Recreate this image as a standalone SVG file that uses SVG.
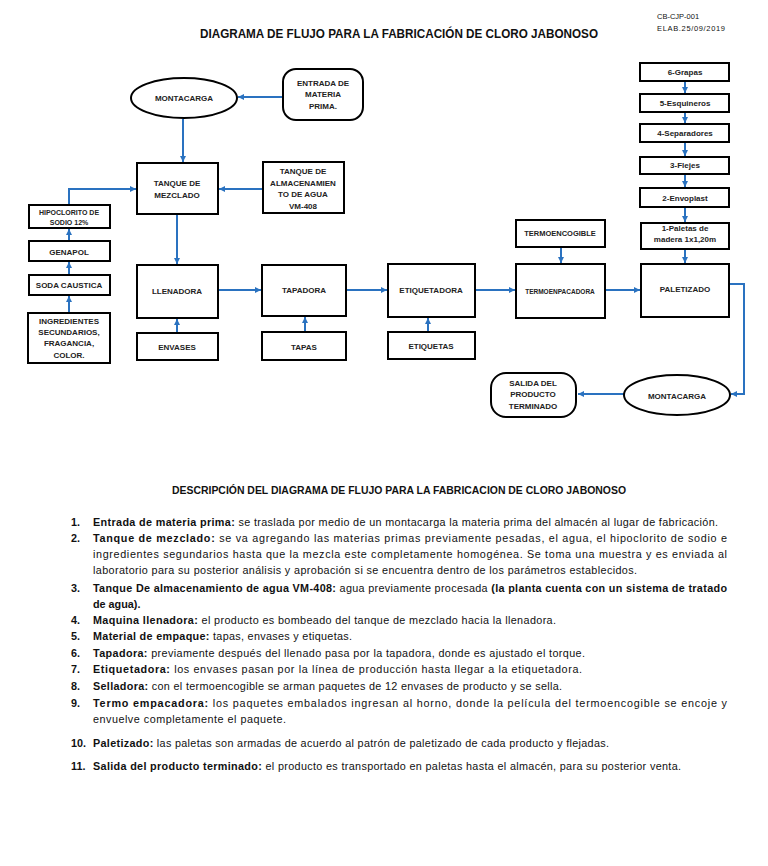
<svg xmlns="http://www.w3.org/2000/svg" width="768" height="866" viewBox="0 0 768 866">
<style>
  .box{fill:#fff;stroke:#000;stroke-width:2}
  .nt{font-family:"Liberation Sans",Arial,sans-serif;font-weight:bold;font-size:8px;fill:#222;text-anchor:middle;dominant-baseline:central}
  .sm{font-size:7px}
  .conn{fill:none;stroke:#2a72c0;stroke-width:2}
  .title{font-family:"Liberation Sans",Arial,sans-serif;font-weight:bold;font-size:13.5px;fill:#111}
  .code{font-family:"Liberation Sans",Arial,sans-serif;font-size:7.5px;fill:#111}
  .body{font-family:"Liberation Sans",Arial,sans-serif;font-size:10.8px;fill:#111}
  .b{font-weight:bold}
</style>
<defs>
  <marker id="ah" markerUnits="userSpaceOnUse" markerWidth="7" markerHeight="7" refX="6" refY="3.5" orient="auto">
    <path d="M0,0.5 L6,3.5 L0,6.5 Z" fill="#2a72c0"/>
  </marker>
</defs>
<rect width="768" height="866" fill="#fff"/>

<text class="title" x="200" y="38" textLength="398" lengthAdjust="spacingAndGlyphs">DIAGRAMA DE FLUJO PARA LA FABRICACIÓN DE CLORO JABONOSO</text>
<text class="code" x="657" y="19">CB-CJP-001</text>
<text class="code" x="657" y="31" textLength="68" lengthAdjust="spacing">ELAB.25/09/2019</text>

<g id="connectors">
  <path class="conn" marker-end="url(#ah)" d="M283,97 L238,97"/>
  <path class="conn" marker-end="url(#ah)" d="M183,119 L183,162"/>
  <path class="conn" marker-end="url(#ah)" d="M263,189 L219,189"/>
  <path class="conn" marker-end="url(#ah)" d="M69,204 L69,189 L136,189"/>
  <path class="conn" marker-end="url(#ah)" d="M69,241 L69,229"/>
  <path class="conn" marker-end="url(#ah)" d="M69,275 L69,262"/>
  <path class="conn" marker-end="url(#ah)" d="M69,313 L69,296"/>
  <path class="conn" marker-end="url(#ah)" d="M177,214 L177,264"/>
  <path class="conn" marker-end="url(#ah)" d="M177,333 L177,319"/>
  <path class="conn" marker-end="url(#ah)" d="M218,290 L261,290"/>
  <path class="conn" marker-end="url(#ah)" d="M305,332 L305,317"/>
  <path class="conn" marker-end="url(#ah)" d="M346,290 L387,290"/>
  <path class="conn" marker-end="url(#ah)" d="M428,332 L428,318"/>
  <path class="conn" marker-end="url(#ah)" d="M475,290 L515,290"/>
  <path class="conn" marker-end="url(#ah)" d="M561,247 L561,263"/>
  <path class="conn" marker-end="url(#ah)" d="M605,290 L640,290"/>
  <path class="conn" marker-end="url(#ah)" d="M685,249 L685,263"/>
  <path class="conn" marker-end="url(#ah)" d="M685,81 L685,93"/>
  <path class="conn" marker-end="url(#ah)" d="M685,112 L685,123"/>
  <path class="conn" marker-end="url(#ah)" d="M685,142 L685,156"/>
  <path class="conn" marker-end="url(#ah)" d="M685,173 L685,187"/>
  <path class="conn" marker-end="url(#ah)" d="M685,207 L685,222"/>
  <path class="conn" marker-end="url(#ah)" d="M729,284 L744,284 L744,394 L731,394"/>
  <path class="conn" marker-end="url(#ah)" d="M624,394 L578,394"/>
</g>

<g id="montacarga1">
  <ellipse class="box" cx="184" cy="98" rx="53" ry="20"/>
  <text class="nt" x="184" y="98">MONTACARGA</text>
</g>
<g id="entrada">
  <rect class="box" x="283" y="69" width="80" height="51" rx="13"/>
  <text class="nt" x="323" y="83">ENTRADA DE</text>
  <text class="nt" x="323" y="94">MATERIA</text>
  <text class="nt" x="323" y="106">PRIMA.</text>
</g>
<g id="tanque-mezclado">
  <rect class="box" x="137" y="163" width="81" height="51"/>
  <text class="nt" x="177" y="183">TANQUE DE</text>
  <text class="nt" x="177" y="195">MEZCLADO</text>
</g>
<g id="tanque-agua">
  <rect class="box" x="263" y="162" width="81" height="51"/>
  <text class="nt" x="303" y="171">TANQUE DE</text>
  <text class="nt" x="303" y="183">ALMACENAMIEN</text>
  <text class="nt" x="303" y="194">TO DE AGUA</text>
  <text class="nt" x="303" y="206">VM-408</text>
</g>
<g id="hipoclorito">
  <rect class="box" x="29" y="205" width="81" height="23"/>
  <text class="nt sm" x="69" y="212">HIPOCLORITO DE</text>
  <text class="nt sm" x="69" y="222">SODIO 12%</text>
</g>
<g id="genapol">
  <rect class="box" x="29" y="241" width="81" height="20"/>
  <text class="nt" x="69" y="252">GENAPOL</text>
</g>
<g id="soda">
  <rect class="box" x="29" y="275" width="81" height="20"/>
  <text class="nt" x="69" y="285">SODA CAUSTICA</text>
</g>
<g id="ingredientes">
  <rect class="box" x="28" y="313" width="82" height="50"/>
  <text class="nt" x="69" y="321">INGREDIENTES</text>
  <text class="nt" x="69" y="332">SECUNDARIOS,</text>
  <text class="nt" x="69" y="343">FRAGANCIA,</text>
  <text class="nt" x="69" y="355">COLOR.</text>
</g>
<g id="llenadora">
  <rect class="box" x="137" y="265" width="81" height="53"/>
  <text class="nt" x="177" y="291">LLENADORA</text>
</g>
<g id="envases">
  <rect class="box" x="137" y="333" width="81" height="27"/>
  <text class="nt" x="177" y="347">ENVASES</text>
</g>
<g id="tapadora">
  <rect class="box" x="262" y="265" width="84" height="51"/>
  <text class="nt" x="304" y="290">TAPADORA</text>
</g>
<g id="tapas">
  <rect class="box" x="262" y="332" width="84" height="28"/>
  <text class="nt" x="304" y="347">TAPAS</text>
</g>
<g id="etiquetadora">
  <rect class="box" x="388" y="264" width="87" height="53"/>
  <text class="nt" x="431" y="290">ETIQUETADORA</text>
</g>
<g id="etiquetas">
  <rect class="box" x="388" y="332" width="87" height="27"/>
  <text class="nt" x="431" y="346">ETIQUETAS</text>
</g>
<g id="termoencogible">
  <rect class="box" x="516" y="220" width="89" height="27"/>
  <text class="nt" x="560" y="233" style="font-size:7.5px">TERMOENCOGIBLE</text>
</g>
<g id="termoenpacadora">
  <rect class="box" x="516" y="264" width="89" height="54"/>
  <text class="nt" x="560" y="291" style="font-size:6.5px">TERMOENPACADORA</text>
</g>
<g id="paletizado">
  <rect class="box" x="641" y="264" width="88" height="53"/>
  <text class="nt" x="685" y="289">PALETIZADO</text>
</g>
<g id="grapas">
  <rect class="box" x="640" y="63" width="89" height="18"/>
  <text class="nt" x="685" y="72">6-Grapas</text>
</g>
<g id="esquineros">
  <rect class="box" x="640" y="94" width="89" height="18"/>
  <text class="nt" x="685" y="103">5-Esquineros</text>
</g>
<g id="separadores">
  <rect class="box" x="640" y="124" width="89" height="18"/>
  <text class="nt" x="685" y="133">4-Separadores</text>
</g>
<g id="flejes">
  <rect class="box" x="640" y="157" width="89" height="17"/>
  <text class="nt" x="685" y="165">3-Flejes</text>
</g>
<g id="envoplast">
  <rect class="box" x="640" y="188" width="89" height="19"/>
  <text class="nt" x="685" y="198">2-Envoplast</text>
</g>
<g id="paletas">
  <rect class="box" x="641" y="223" width="88" height="26"/>
  <text class="nt" x="685" y="228">1-Paletas de</text>
  <text class="nt" x="685" y="239">madera 1x1,20m</text>
</g>
<g id="montacarga2">
  <ellipse class="box" cx="677" cy="395" rx="53" ry="20"/>
  <text class="nt" x="677" y="396">MONTACARGA</text>
</g>
<g id="salida">
  <rect class="box" x="491" y="373" width="85" height="44" rx="15"/>
  <text class="nt" x="533" y="383">SALIDA DEL</text>
  <text class="nt" x="533" y="394">PRODUCTO</text>
  <text class="nt" x="533" y="406">TERMINADO</text>
</g>

<g id="descripcion">
  <text class="body b" x="172" y="494" style="font-size:10.5px" textLength="454" lengthAdjust="spacingAndGlyphs">DESCRIPCIÓN DEL DIAGRAMA DE FLUJO PARA LA FABRICACION DE CLORO JABONOSO</text>

  <text class="body b" x="71" y="526">1.</text>
  <text class="body" x="93" y="526" textLength="625" lengthAdjust="spacing"><tspan class="b">Entrada de materia prima:</tspan> se traslada por medio de un montacarga la materia prima del almacén al lugar de fabricación.</text>

  <text class="body b" x="71" y="542">2.</text>
  <text class="body" x="93" y="542" textLength="634" lengthAdjust="spacing"><tspan class="b">Tanque de mezclado:</tspan> se va agregando las materias primas previamente pesadas, el agua, el hipoclorito de sodio e</text>
  <text class="body" x="93" y="558" textLength="634" lengthAdjust="spacing">ingredientes segundarios hasta que la mezcla este completamente homogénea. Se toma una muestra y es enviada al</text>
  <text class="body" x="93" y="574" textLength="544" lengthAdjust="spacing">laboratorio para su posterior análisis y aprobación si se encuentra dentro de los parámetros establecidos.</text>

  <text class="body b" x="71" y="592">3.</text>
  <text class="body" x="93" y="592" textLength="634" lengthAdjust="spacing"><tspan class="b">Tanque De almacenamiento de agua VM-408:</tspan> agua previamente procesada <tspan class="b">(la planta cuenta con un sistema de tratado</tspan></text>
  <text class="body b" x="93" y="608">de agua).</text>

  <text class="body b" x="71" y="624">4.</text>
  <text class="body" x="93" y="624" textLength="463" lengthAdjust="spacing"><tspan class="b">Maquina llenadora:</tspan> el producto es bombeado del tanque de mezclado hacia la llenadora.</text>

  <text class="body b" x="71" y="640">5.</text>
  <text class="body" x="93" y="640" textLength="259" lengthAdjust="spacing"><tspan class="b">Material de empaque:</tspan> tapas, envases y etiquetas.</text>

  <text class="body b" x="71" y="657">6.</text>
  <text class="body" x="93" y="657" textLength="492" lengthAdjust="spacing"><tspan class="b">Tapadora:</tspan> previamente después del llenado pasa por la tapadora, donde es ajustado el torque.</text>

  <text class="body b" x="71" y="673">7.</text>
  <text class="body" x="93" y="673" textLength="489" lengthAdjust="spacing"><tspan class="b">Etiquetadora:</tspan> los envases pasan por la línea de producción hasta llegar a la etiquetadora.</text>

  <text class="body b" x="71" y="690">8.</text>
  <text class="body" x="93" y="690" textLength="469" lengthAdjust="spacing"><tspan class="b">Selladora:</tspan> con el termoencogible se arman paquetes de 12 envases de producto y se sella.</text>

  <text class="body b" x="71" y="707">9.</text>
  <text class="body" x="93" y="707" textLength="634" lengthAdjust="spacing"><tspan class="b">Termo empacadora:</tspan> los paquetes embalados ingresan al horno, donde la película del termoencogible se encoje y</text>
  <text class="body" x="93" y="723" textLength="193" lengthAdjust="spacing">envuelve completamente el paquete.</text>

  <text class="body b" x="71" y="747">10.</text>
  <text class="body" x="93" y="747" textLength="516" lengthAdjust="spacing"><tspan class="b">Paletizado:</tspan> las paletas son armadas de acuerdo al patrón de paletizado de cada producto y flejadas.</text>

  <text class="body b" x="71" y="770">11.</text>
  <text class="body" x="93" y="770" textLength="588" lengthAdjust="spacing"><tspan class="b">Salida del producto terminado:</tspan> el producto es transportado en paletas hasta el almacén, para su posterior venta.</text>
</g>
</svg>
